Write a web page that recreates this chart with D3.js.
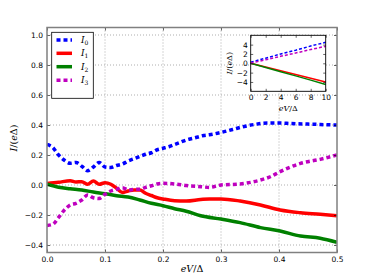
<!DOCTYPE html>
<html><head><meta charset="utf-8">
<script src="https://cdn.jsdelivr.net/npm/d3@7"></script>
<style>body{margin:0;background:#fff}svg{display:block}</style>
</head><body>
<script>
// main data
const x0 = [0,0.01,0.02,0.03,0.04,0.05,0.06,0.07,0.08,0.09,0.10,0.11,0.12,0.13,0.14,0.15,0.16,0.17,0.18,0.19,0.20,0.21,0.22,0.23,0.24,0.25,0.26,0.27,0.28,0.30,0.32,0.34,0.36,0.38,0.40,0.42,0.44,0.46,0.48,0.50];
const I0 = [0.27,0.25,0.20,0.165,0.145,0.15,0.125,0.095,0.12,0.15,0.12,0.117,0.13,0.14,0.16,0.175,0.19,0.205,0.215,0.235,0.245,0.255,0.27,0.285,0.30,0.31,0.32,0.33,0.335,0.35,0.37,0.39,0.405,0.413,0.413,0.41,0.407,0.405,0.402,0.40];
const x1 = [0,0.02,0.04,0.05,0.06,0.07,0.08,0.09,0.10,0.11,0.12,0.13,0.14,0.15,0.16,0.17,0.18,0.19,0.20,0.22,0.24,0.265,0.28,0.30,0.333,0.368,0.402,0.437,0.471,0.50];
const I1 = [0.01,0.018,0.028,0.02,0.022,0.005,0.027,0.005,0.015,0.005,-0.022,-0.05,-0.04,-0.033,-0.033,-0.055,-0.07,-0.085,-0.093,-0.105,-0.107,-0.097,-0.093,-0.093,-0.107,-0.133,-0.167,-0.185,-0.195,-0.205];
const x2 = [0,0.02,0.04,0.06,0.08,0.10,0.12,0.14,0.16,0.18,0.20,0.22,0.24,0.265,0.30,0.333,0.368,0.402,0.437,0.471,0.50];
const I2 = [0.005,-0.015,-0.025,-0.033,-0.047,-0.058,-0.071,-0.08,-0.1,-0.122,-0.138,-0.158,-0.175,-0.205,-0.227,-0.251,-0.284,-0.307,-0.34,-0.355,-0.382];
const x3 = [0,0.01,0.02,0.03,0.04,0.05,0.06,0.07,0.08,0.09,0.10,0.11,0.12,0.13,0.14,0.15,0.16,0.17,0.18,0.19,0.20,0.22,0.24,0.265,0.28,0.30,0.333,0.368,0.385,0.402,0.437,0.471,0.50];
const I3 = [-0.27,-0.262,-0.216,-0.167,-0.133,-0.122,-0.1,-0.067,-0.085,-0.09,-0.062,-0.04,-0.029,-0.018,-0.033,-0.029,-0.029,-0.016,-0.005,0.007,0.011,0.007,-0.003,-0.011,-0.016,0,0.007,0.033,0.055,0.089,0.144,0.171,0.20];
// inset data
const xi = [0,2,4,6,8,10];
const J0 = [0.25,1.1,2.0,2.8,3.7,4.5];
const J1 = [0.0,-0.8,-1.6,-2.4,-3.2,-4.0];
const J2 = [0.0,-0.9,-1.8,-2.7,-3.6,-4.55];
const J3 = [0.05,0.75,1.5,2.2,2.95,3.65];
const xTicks = [0,0.1,0.2,0.3,0.4,0.5];
const yTicks = [-0.4,-0.2,0,0.2,0.4,0.6,0.8,1.0];
const xiTicks = [0,2,4,6,8,10];
const yiTicks = [-4,-2,0,2,4];

const W=374,H=280;
const svg=d3.select("body").append("svg").attr("width",W).attr("height",H);
const fmtMinus = s => s.replace("-","\u2212");
const series=[
  {x:x0,y:I0,c:"#0000ff",dash:"4,3",sub:"0"},
  {x:x1,y:I1,c:"#ff0000",dash:null,sub:"1"},
  {x:x2,y:I2,c:"#008000",dash:null,sub:"2"},
  {x:x3,y:I3,c:"#bf00bf",dash:"4,3",sub:"3"}];
const iseries=[{y:J0,c:"#0000ff",dash:"3,2"},{y:J1,c:"#ff0000",dash:null},{y:J2,c:"#008000",dash:null},{y:J3,c:"#bf00bf",dash:"3,2"}];

// main axes
const L=47,R=337,T=27.5,B=252.5;
const xs=d3.scaleLinear().domain([0,0.5]).range([L,R]);
const ys=d3.scaleLinear().domain([-0.45,1.05]).range([B,T]);
const g=svg.append("g");
// grid
g.selectAll(".gx").data(xTicks.slice(1,-1)).join("line").attr("x1",d=>xs(d)).attr("x2",d=>xs(d)).attr("y1",T).attr("y2",B)
 .attr("stroke","#999").attr("stroke-width",0.8).attr("stroke-dasharray","1,2");
g.selectAll(".gy").data(yTicks).join("line").attr("y1",d=>ys(d)).attr("y2",d=>ys(d)).attr("x1",L).attr("x2",R)
 .attr("stroke","#999").attr("stroke-width",0.8).attr("stroke-dasharray","1,2");
const clip=svg.append("clipPath").attr("id","c").append("rect").attr("x",L).attr("y",T).attr("width",R-L).attr("height",B-T);
const lines=g.append("g").attr("clip-path","url(#c)");
series.forEach(s=>{
  const data=s.x.map((v,i)=>[v,s.y[i]]);
  lines.append("path").attr("d",d3.line().x(d=>xs(d[0])).y(d=>ys(d[1])).curve(d3.curveMonotoneX)(data))
   .attr("fill","none").attr("stroke",s.c).attr("stroke-width",3.5).attr("stroke-dasharray",s.dash);
});
// axes ticks
const ax=g.append("g").attr("transform",`translate(0,${B})`).call(d3.axisBottom(xs).tickValues(xTicks).tickFormat(d3.format(".1f")).tickSizeInner(-3).tickSizeOuter(0).tickPadding(4));
const ay=g.append("g").attr("transform",`translate(${L},0)`).call(d3.axisLeft(ys).tickValues(yTicks).tickFormat(d=>fmtMinus(d3.format(".1f")(d))).tickSizeInner(-3).tickSizeOuter(0).tickPadding(4));
const ax2=g.append("g").attr("transform",`translate(0,${T})`).call(d3.axisTop(xs).tickValues(xTicks).tickFormat("").tickSizeInner(-3).tickSizeOuter(0));
const ay2=g.append("g").attr("transform",`translate(${R},0)`).call(d3.axisRight(ys).tickValues(yTicks).tickFormat("").tickSizeInner(-3).tickSizeOuter(0));
[ax,ay,ax2,ay2].forEach(a=>{a.select(".domain").remove();a.selectAll("line").attr("stroke","#000").attr("stroke-width",0.6);
  a.selectAll("text").attr("font-family","DejaVu Sans").attr("font-size",7.5).attr("fill","#000");});
g.append("rect").attr("x",L).attr("y",T).attr("width",R-L).attr("height",B-T).attr("fill","none").attr("stroke","#808080").attr("stroke-width",1.5);
// axis labels
const serif="DejaVu Serif";
svg.append("text").attr("x",(L+R)/2).attr("y",272).attr("text-anchor","middle").attr("font-family",serif).attr("font-size",9.5)
 .html('<tspan font-style="italic">eV</tspan>/Δ');
svg.append("text").attr("transform",`translate(17,${(T+B)/2-2}) rotate(-90)`).attr("text-anchor","middle").attr("font-family",serif).attr("font-size",9.5)
 .html('<tspan font-style="italic">I</tspan>/(<tspan font-style="italic">e</tspan>Δ)');

// legend
const lg=svg.append("g");
lg.append("rect").attr("x",51.7).attr("y",32.3).attr("width",41.6).attr("height",66).attr("fill","#fff").attr("stroke","#000").attr("stroke-width",0.8);
const ly=[40,53.3,66.7,80.3];
series.forEach((s,i)=>{
  lg.append("line").attr("x1",56.5).attr("x2",72).attr("y1",ly[i]).attr("y2",ly[i]).attr("stroke",s.c).attr("stroke-width",3.5).attr("stroke-dasharray",s.dash);
  lg.append("text").attr("x",81).attr("y",ly[i]+3).attr("font-family",serif).attr("font-size",9).attr("font-style","italic")
   .html(`I<tspan font-size="6" dy="2" font-style="normal">${s.sub}</tspan>`);
});

// inset
const iL=250.7,iR=325.7,iT=35.3,iB=91.3;
const xis=d3.scaleLinear().domain([0,10]).range([iL,iR]);
const yis=d3.scaleLinear().domain([-6,6]).range([iB,iT]);
const ig=svg.append("g");
ig.append("rect").attr("x",iL).attr("y",iT).attr("width",iR-iL).attr("height",iB-iT).attr("fill","#fff");
iseries.forEach(s=>{
  const data=xi.map((v,i)=>[v,s.y[i]]);
  ig.append("path").attr("d",d3.line().x(d=>xis(d[0])).y(d=>yis(d[1]))(data)).attr("fill","none").attr("stroke",s.c).attr("stroke-width",1.5).attr("stroke-dasharray",s.dash);
});
const bx=ig.append("g").attr("transform",`translate(0,${iB})`).call(d3.axisBottom(xis).tickValues(xiTicks).tickSizeInner(-2.5).tickSizeOuter(0).tickPadding(3));
const by=ig.append("g").attr("transform",`translate(${iL},0)`).call(d3.axisLeft(yis).tickValues(yiTicks).tickFormat(d=>fmtMinus(String(d))).tickSizeInner(-2.5).tickSizeOuter(0).tickPadding(3));
const bx2=ig.append("g").attr("transform",`translate(0,${iT})`).call(d3.axisTop(xis).tickValues(xiTicks).tickFormat("").tickSizeInner(-2.5).tickSizeOuter(0));
const by2=ig.append("g").attr("transform",`translate(${iR},0)`).call(d3.axisRight(yis).tickValues(yiTicks).tickFormat("").tickSizeInner(-2.5).tickSizeOuter(0));
[bx,by,bx2,by2].forEach(a=>{a.select(".domain").remove();a.selectAll("line").attr("stroke","#000").attr("stroke-width",0.6);
  a.selectAll("text").attr("font-family","DejaVu Sans").attr("font-size",7.5).attr("fill","#000");});
ig.append("rect").attr("x",iL).attr("y",iT).attr("width",iR-iL).attr("height",iB-iT).attr("fill","none").attr("stroke","#000").attr("stroke-width",0.9);
svg.append("text").attr("x",(iL+iR)/2).attr("y",111).attr("text-anchor","middle").attr("font-family",serif).attr("font-size",8)
 .html('<tspan font-style="italic">eV</tspan>/Δ');
svg.append("text").attr("transform",`translate(232,${(iT+iB)/2}) rotate(-90)`).attr("text-anchor","middle").attr("font-family",serif).attr("font-size",8)
 .html('<tspan font-style="italic">I</tspan>/(<tspan font-style="italic">e</tspan>Δ)');
</script>
</body></html>
